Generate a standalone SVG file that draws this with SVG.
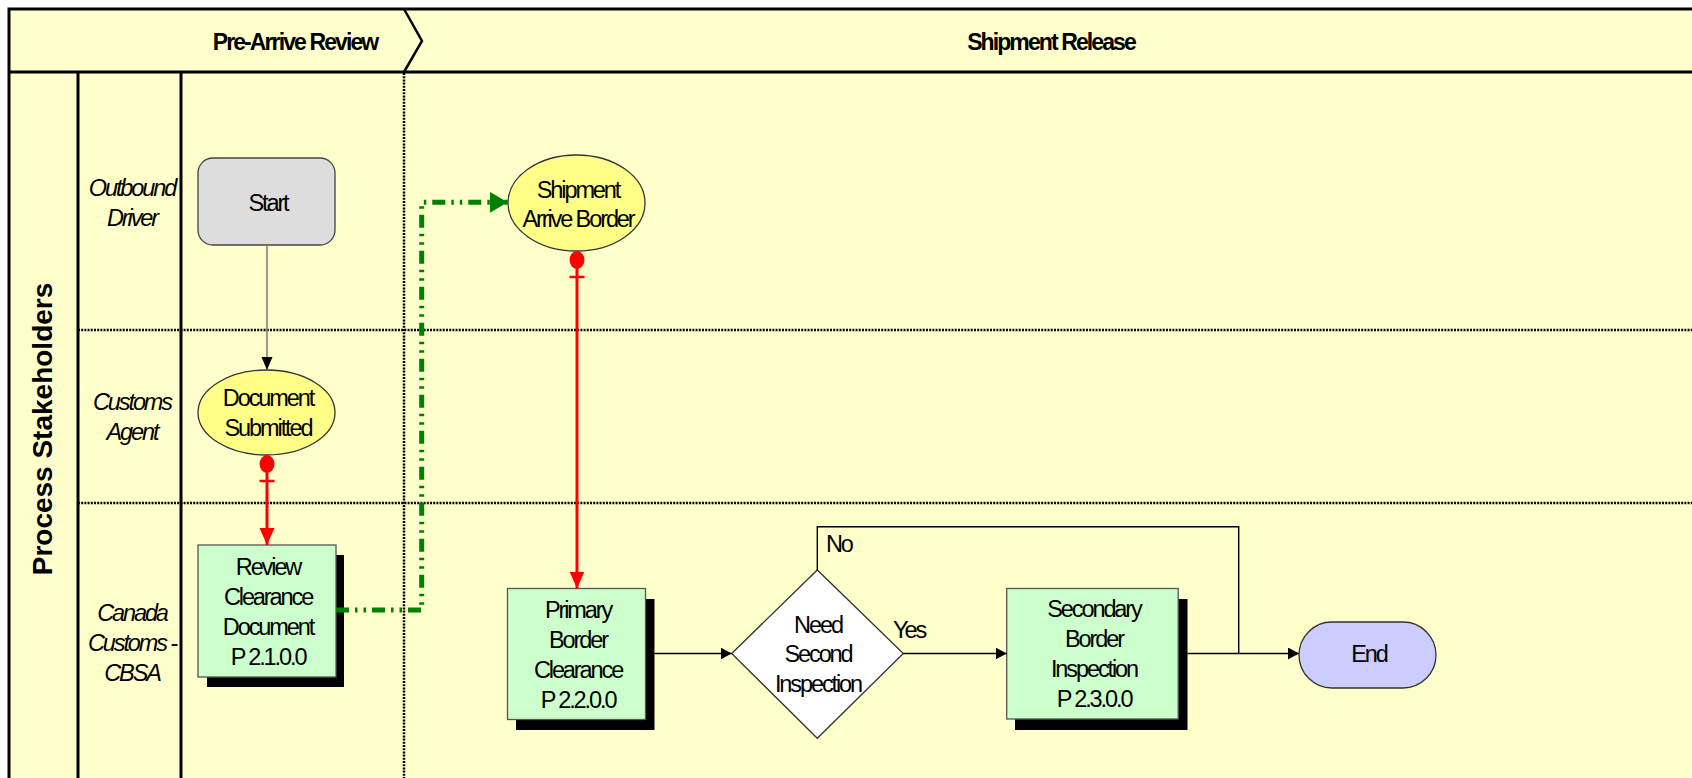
<svg xmlns="http://www.w3.org/2000/svg" width="1692" height="778" viewBox="0 0 1692 778">
  <style>
    .txt { font-family: "Liberation Sans", Arial, sans-serif; font-size: 23.5px; letter-spacing: -2.1px; fill: #000; text-anchor: middle; }
    .lane { font-style: italic; }
    .hdr { font-weight: bold; font-size: 23px; letter-spacing: -1.9px; }
    .left { text-anchor: start; }
    .frame { stroke: #000; stroke-width: 3; fill: none; }
    .col { stroke: #000; stroke-width: 3; fill: none; }
    .dots { stroke: #000; stroke-width: 2.5; stroke-dasharray: 2 1.2; fill: none; }
    .shadow { fill: #000; }
    .proc { fill: #CCFFCC; stroke: #555; stroke-width: 1.3; }
    .event { fill: #FFFF88; stroke: #333; stroke-width: 1.3; }
    .flow { stroke: #000; stroke-width: 1.4; fill: none; }
    .msg { stroke: #FF0000; stroke-width: 3; fill: none; }
    .link { stroke: #008000; stroke-width: 5; stroke-dasharray: 13 6 2.5 6 2.5 6; fill: none; }
  </style>
  <defs>
    <marker id="ah-black" markerUnits="userSpaceOnUse" markerWidth="12" markerHeight="12" refX="11" refY="6" orient="auto">
      <path d="M0,0 L11,6 L0,12 z" fill="#000"/>
    </marker>
    <marker id="ah-start" markerUnits="userSpaceOnUse" markerWidth="14" markerHeight="12" refX="13" refY="5.5" orient="auto">
      <path d="M0,0 L13,5.5 L0,11 z" fill="#000"/>
    </marker>
    <marker id="ah-red" markerUnits="userSpaceOnUse" markerWidth="18" markerHeight="16" refX="17" refY="7.5" orient="auto">
      <path d="M0,0 L17,7.5 L0,15 z" fill="#FF0000"/>
    </marker>
    <marker id="ah-green" markerUnits="userSpaceOnUse" markerWidth="19" markerHeight="21" refX="18" refY="10.5" orient="auto">
      <path d="M0,0 L18,10.5 L0,21 z" fill="#008000"/>
    </marker>
  </defs>

  <!-- pool background and frame -->
  <rect x="0" y="0" width="1692" height="778" fill="#FFFFFF"/>
  <rect x="9" y="9" width="1683" height="769" fill="#FFFFCC"/>
  <g id="pool">
    <path class="frame" d="M1692,9 H9 V778"/>
    <path class="frame" d="M9,72 H1692"/>
    <path d="M404,9 L422,41 L404,72" fill="none" stroke="#000" stroke-width="2.5"/>
    <line class="col" x1="78" y1="72" x2="78" y2="778"/>
    <line class="col" x1="181" y1="72" x2="181" y2="778"/>
    <line class="dots" x1="78" y1="330" x2="1692" y2="330"/>
    <line class="dots" x1="78" y1="503" x2="1692" y2="503"/>
    <line class="dots" x1="404" y1="73" x2="404" y2="778"/>
    <text class="txt hdr" x="295" y="50">Pre-Arrive Review</text>
    <text class="txt hdr" x="1051" y="50">Shipment Release</text>
    <text x="0" y="0" transform="translate(52,429) rotate(-90)" font-family="Liberation Sans, Arial, sans-serif" font-size="28" font-weight="bold" text-anchor="middle">Process Stakeholders</text>
  </g>

  <!-- lane labels -->
  <g id="lane-driver">
    <text class="txt lane" x="132" y="196">Outbound</text>
    <text class="txt lane" x="132" y="226">Driver</text>
  </g>
  <g id="lane-agent">
    <text class="txt lane" x="132" y="410">Customs</text>
    <text class="txt lane" x="132" y="440">Agent</text>
  </g>
  <g id="lane-cbsa">
    <text class="txt lane" x="132" y="621">Canada</text>
    <text class="txt lane" x="132" y="651">Customs -</text>
    <text class="txt lane" x="132" y="681">CBSA</text>
  </g>

  <!-- nodes -->
  <g id="start">
    <rect x="198" y="158" width="137" height="87" rx="15" fill="#DDDDDD" stroke="#444" stroke-width="1.3"/>
    <text class="txt" x="268" y="211">Start</text>
  </g>
  <g id="document-submitted">
    <ellipse class="event" cx="266.5" cy="412.5" rx="68.5" ry="42.5"/>
    <text class="txt" x="268" y="406">Document</text>
    <text class="txt" x="268" y="436">Submitted</text>
  </g>
  <g id="review-clearance">
    <rect class="shadow" x="207" y="555" width="137" height="132"/>
    <rect class="proc" x="198" y="545" width="138" height="132"/>
    <text class="txt" x="268" y="575">Review</text>
    <text class="txt" x="268" y="605">Clearance</text>
    <text class="txt" x="268" y="635">Document</text>
    <text class="txt" x="268" y="665">P 2.1.0.0</text>
  </g>
  <g id="shipment-arrive">
    <ellipse class="event" cx="576.5" cy="203" rx="68.5" ry="48"/>
    <text class="txt" x="578" y="198">Shipment</text>
    <text class="txt" x="578" y="227">Arrive Border</text>
  </g>
  <g id="primary-clearance">
    <rect class="shadow" x="516" y="599" width="138.5" height="131"/>
    <rect class="proc" x="507.5" y="588.5" width="138" height="131"/>
    <text class="txt" x="578" y="618">Primary</text>
    <text class="txt" x="578" y="648">Border</text>
    <text class="txt" x="578" y="678">Clearance</text>
    <text class="txt" x="578" y="708">P 2.2.0.0</text>
  </g>
  <g id="need-second">
    <path d="M731.7,653.5 L817.3,570 L903.3,653.5 L817.3,738.3 z" fill="#FFFFFF" stroke="#333" stroke-width="1.3"/>
    <text class="txt" x="818" y="633">Need</text>
    <text class="txt" x="818" y="662">Second</text>
    <text class="txt" x="818" y="692">Inspection</text>
  </g>
  <g id="secondary-inspection">
    <rect class="shadow" x="1015" y="599" width="172.5" height="131"/>
    <rect class="proc" x="1006.7" y="588.5" width="171.5" height="130.5"/>
    <text class="txt" x="1094" y="617">Secondary</text>
    <text class="txt" x="1094" y="647">Border</text>
    <text class="txt" x="1094" y="677">Inspection</text>
    <text class="txt" x="1094" y="707">P 2.3.0.0</text>
  </g>
  <g id="end">
    <rect x="1299" y="622" width="137" height="66" rx="33" fill="#CCCCFF" stroke="#333" stroke-width="1.3"/>
    <text class="txt" x="1369" y="662">End</text>
  </g>

  <!-- connectors -->
  <g id="connectors">
    <line x1="267" y1="245" x2="267" y2="370" stroke="#777" stroke-width="1.5" marker-end="url(#ah-start)"/>

    <ellipse cx="267" cy="464" rx="7.5" ry="9" fill="#FF0000"/>
    <line x1="259.5" y1="481" x2="274.5" y2="481" stroke="#FF0000" stroke-width="2.5"/>
    <line class="msg" x1="267" y1="466" x2="267" y2="545" marker-end="url(#ah-red)"/>

    <path class="link" d="M336,610 H421.7 V202.3 H507.7" marker-end="url(#ah-green)"/>

    <ellipse cx="577" cy="260" rx="7.5" ry="9" fill="#FF0000"/>
    <line x1="569.5" y1="277" x2="584.5" y2="277" stroke="#FF0000" stroke-width="2.5"/>
    <line class="msg" x1="577" y1="262" x2="577" y2="588.5" marker-end="url(#ah-red)"/>

    <line class="flow" x1="654.5" y1="653.5" x2="731.7" y2="653.5" marker-end="url(#ah-black)"/>
    <line class="flow" x1="903.3" y1="653.5" x2="1006.7" y2="653.5" marker-end="url(#ah-black)"/>
    <text class="txt left" x="893" y="638">Yes</text>
    <path class="flow" d="M817.3,570 V526.7 H1238.7 V653.5"/>
    <text class="txt left" x="826" y="552">No</text>
    <line class="flow" x1="1187.5" y1="653.5" x2="1299" y2="653.5" marker-end="url(#ah-black)"/>
  </g>
</svg>
